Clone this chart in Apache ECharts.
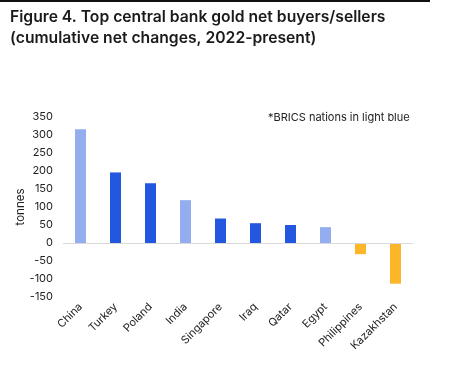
<!DOCTYPE html>
<html><head><meta charset="utf-8">
<script src="https://cdn.jsdelivr.net/npm/echarts@6/dist/echarts.min.js"></script>
<style>html,body{margin:0;padding:0;background:#fff}#c{width:468px;height:385px}</style>
</head><body><div id="c"></div>
<script>
const categories = ['China','Turkey','Poland','India','Singapore','Iraq','Qatar','Egypt','Philippines','Kazakhstan'];
const values = [316, 196, 166, 119, 68, 55, 50, 44, -31, -113];
const groups = ['brics','other','other','brics','other','other','other','brics','seller','seller'];
const yTicks = [-150,-100,-50,0,50,100,150,200,250,300,350];
const colors = {brics:'#93ADEE', other:'#2457E0', seller:'#FBB62A'};
const font = 'Inter, "Noto Sans", sans-serif';
const chart = echarts.init(document.getElementById('c'), null, {renderer:'canvas'});
chart.setOption({
  animation:false,
  graphic:[
    {type:'rect', shape:{x:0,y:0,width:430,height:2}, style:{fill:'#111'}},
    {type:'text', left:10, top:7, style:{text:'Figure 4. Top central bank gold net buyers/sellers\n(cumulative net changes, 2022-present)', font:'600 15.7px '+font, fill:'#1a1a1a', lineHeight:21}},
    {type:'text', left:268, top:112, style:{text:'*BRICS nations in light blue', font:'11px '+font, fill:'#222'}},
    {type:'text', x:21, y:207, rotation:Math.PI/2, style:{text:'tonnes', font:'11.5px '+font, fill:'#222', align:'center', verticalAlign:'middle'}}
  ],
  grid:{left:63, top:117, width:350, height:180, containLabel:false},
  xAxis:{type:'category', data:categories, axisLine:{show:false}, axisTick:{show:false},
    axisLabel:{rotate:45, interval:0, margin:8, fontFamily:font, fontSize:11, color:'#222'}},
  yAxis:{type:'value', min:-150, max:350, interval:50, splitLine:{show:false},
    axisLine:{show:false}, axisTick:{show:false},
    axisLabel:{fontFamily:font, fontSize:11, color:'#222', margin:10}},
  series:[{type:'bar', barWidth:11,
    data: values.map((v,i)=>({value:v, itemStyle:{color:colors[groups[i]]}})),
    markLine:{silent:true, symbol:'none', label:{show:false}, lineStyle:{color:'#d9d9d9', type:'solid', width:1}, data:[{yAxis:0}]}
  }]
});
</script></body></html>
